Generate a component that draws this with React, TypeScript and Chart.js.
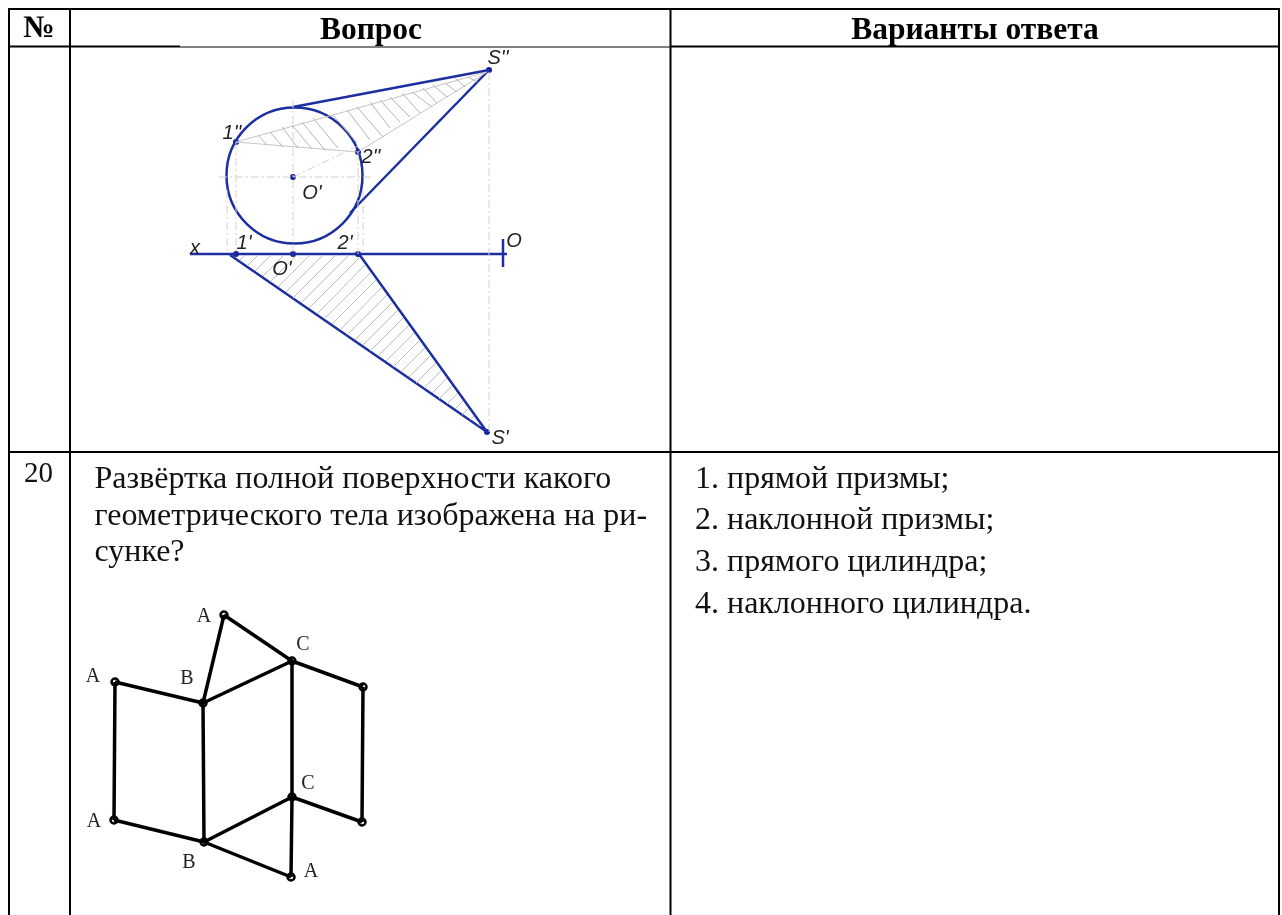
import React, { useEffect, useRef } from "react";
import { Chart, registerables } from "chart.js";

Chart.register(...registerables);

type P = [number, number];
type Seg = [number, number, number, number];

const gridThick: Seg[] = [
  [8, 9, 1280, 9],
  [8, 46.5, 180, 46.5],
  [670, 46.5, 1280, 46.5],
  [8, 452, 1280, 452],
];
const gridThin: Seg[] = [[180, 47, 670, 47]];
const gridCols: Seg[] = [
  [9, 9, 9, 915],
  [70, 9, 70, 915],
  [670.5, 9, 670.5, 915],
  [1279, 9, 1279, 915],
];

const blueLines: Seg[] = [
  [293, 107, 489, 70],
  [350, 213, 489, 70],
  [190, 254, 507, 254],
  [503, 239, 503, 267],
  [230, 255, 487, 432],
  [359, 254, 487, 432],
];
const bluePoints: P[] = [
  [489, 70],
  [236, 142],
  [358, 152],
  [293, 177],
  [236, 254],
  [293, 254],
  [358, 254],
  [487, 432],
];
const circleCentre: P[] = [[294.5, 175.5]];

const dashLines: Seg[] = [
  [489, 72, 489, 432],
  [219, 177, 372, 177],
  [293, 100, 293, 254],
  [227, 190, 227, 254],
  [236, 142, 236, 254],
  [358, 152, 358, 254],
  [363, 190, 363, 254],
  [293, 177, 360, 145],
];
const outlineGrey: Seg[] = [
  [236, 142, 487, 72],
  [236, 142, 358, 152],
  [358, 152, 487, 72],
];
const hatchUpper: Seg[] = [
  [258, 135, 267, 145],
  [270, 132, 283, 147],
  [282, 127, 298, 148],
  [292, 125, 312, 149],
  [302, 122, 325, 150],
  [313, 118, 338, 148],
  [333, 115, 357, 143],
  [347, 110, 370, 140],
  [357, 107, 383, 137],
  [370, 102, 390, 128],
  [380, 100, 400, 122],
  [390, 97, 410, 117],
  [402, 93, 420, 113],
  [412, 92, 432, 107],
  [423, 88, 437, 103],
  [433, 85, 447, 97],
  [445, 83, 457, 92],
  [455, 78, 465, 87],
  [468, 77, 477, 82],
];
const hatchLower: Seg[] = [
  [240, 260, 245, 255],
  [247, 266, 258, 255],
  [255, 271, 271, 255],
  [263, 276, 284, 255],
  [270, 282, 297, 255],
  [278, 287, 310, 255],
  [286, 292, 323, 255],
  [293, 298, 336, 255],
  [301, 303, 349, 255],
  [309, 308, 360, 257],
  [317, 314, 365, 265],
  [324, 319, 371, 272],
  [332, 324, 376, 280],
  [340, 330, 381, 288],
  [347, 335, 387, 295],
  [355, 340, 392, 303],
  [363, 345, 398, 310],
  [370, 351, 403, 318],
  [378, 356, 409, 325],
  [386, 361, 414, 333],
  [393, 367, 420, 340],
  [401, 372, 425, 348],
  [409, 377, 430, 356],
  [416, 383, 436, 363],
  [424, 388, 441, 371],
  [432, 393, 447, 378],
  [439, 399, 452, 386],
  [447, 404, 458, 393],
  [455, 409, 463, 401],
  [462, 415, 468, 409],
  [470, 420, 474, 416],
  [478, 425, 479, 424],
];

const netEdges: Seg[] = [
  [224, 615, 203, 703],
  [224, 615, 292, 661],
  [292, 661, 363, 687],
  [363, 687, 362, 822],
  [362, 822, 292, 797],
  [292, 797, 204, 842],
  [204, 842, 291, 877],
  [291, 877, 292, 797],
  [292, 661, 292, 797],
  [203, 703, 292, 661],
  [115, 682, 203, 703],
  [115, 682, 114, 820],
  [114, 820, 204, 842],
  [203, 703, 204, 842],
];
const netVertices: P[] = [
  [224, 615],
  [292, 661],
  [363, 687],
  [203, 703],
  [115, 682],
  [114, 820],
  [204, 842],
  [292, 797],
  [362, 822],
  [291, 877],
];

type Label = [string, number, number];
const headerLabels: Label[] = [
  ["№", 39, 37],
  ["Вопрос", 371, 39],
  ["Варианты ответа", 975, 39],
];
const numberLabels: Label[] = [["20", 24, 482]];
const bodyLabels: Label[] = [
  ["Развёртка полной поверхности какого", 94.5, 488],
  ["геометрического тела изображена на ри-", 94.5, 525],
  ["сунке?", 94.5, 561],
  ["1. прямой призмы;", 695, 487.5],
  ["2. наклонной призмы;", 695, 529],
  ["3. прямого цилиндра;", 695, 571],
  ["4. наклонного цилиндра.", 695, 613],
];
const figureLabels: Label[] = [
  ["S''", 498, 58],
  ["1''", 232, 133],
  ["2''", 371, 157],
  ["O'", 312, 193],
  ["x", 195, 248],
  ["1'", 244, 243],
  ["2'", 345, 243],
  ["O'", 282, 269],
  ["O", 514, 241],
  ["S'", 500, 438],
];
const netLabels: Label[] = [
  ["A", 204, 617],
  ["C", 303, 645],
  ["A", 93, 677],
  ["B", 187, 679],
  ["A", 94, 822],
  ["C", 308, 784],
  ["B", 189, 863],
  ["A", 311, 872],
];

const toPath = (segs: Seg[]) =>
  segs.flatMap(([a, b, c, d]) => [{ x: a, y: b }, { x: c, y: d }, { x: c, y: null as any }]);
const toPoints = (pts: P[]) => pts.map(([x, y]) => ({ x, y }));

const lineSet = (segs: Seg[], color: string, width: number, dash: number[] = []) => ({
  type: "scatter" as const,
  showLine: true,
  spanGaps: false,
  data: toPath(segs),
  borderColor: color,
  borderWidth: width,
  borderDash: dash,
  pointRadius: 0,
  tension: 0,
});

const textPlugin = {
  id: "labels",
  afterDatasetsDraw(chart: any) {
    const { ctx, scales } = chart;
    const draw = (
      items: Label[],
      font: string,
      color: string,
      align: CanvasTextAlign,
      baseline: CanvasTextBaseline
    ) => {
      ctx.save();
      ctx.font = font;
      ctx.fillStyle = color;
      ctx.textAlign = align;
      ctx.textBaseline = baseline;
      items.forEach(([t, x, y]) => ctx.fillText(t, scales.x.getPixelForValue(x), scales.y.getPixelForValue(y)));
      ctx.restore();
    };
    draw(headerLabels, 'bold 31.5px "Liberation Serif"', "#000", "center", "alphabetic");
    draw(numberLabels, '29px "Liberation Serif"', "#111", "left", "alphabetic");
    draw(bodyLabels, '32px "Liberation Serif"', "#111", "left", "alphabetic");
    draw(figureLabels, 'italic 20px "Liberation Sans"', "#222", "center", "middle");
    draw(netLabels, '20px "Liberation Serif"', "#222", "center", "middle");
  },
};

export default function App() {
  const ref = useRef<HTMLCanvasElement>(null);
  useEffect(() => {
    document.body.style.margin = "0";
    document.body.style.background = "#fff";
    const chart = new Chart(ref.current!, {
      type: "scatter",
      data: {
        datasets: [
          lineSet(hatchUpper, "#b4b4b4", 1),
          lineSet(hatchLower, "#bcbcbc", 1),
          lineSet(outlineGrey, "#c4c4c4", 1),
          lineSet(dashLines, "#d2d2d2", 1, [8, 3, 2, 3]),
          lineSet(blueLines, "#1c2fa0", 2.5),
          {
            type: "scatter",
            data: toPoints(circleCentre),
            pointRadius: 68,
            pointHoverRadius: 68,
            pointBackgroundColor: "transparent",
            pointBorderColor: "#1c2fa0",
            pointBorderWidth: 2.5,
          },
          {
            type: "scatter",
            data: toPoints(bluePoints),
            pointRadius: 3,
            pointBackgroundColor: "#14209a",
            pointBorderWidth: 0,
          },
          lineSet(netEdges, "#000", 3.5),
          {
            type: "scatter",
            data: toPoints(netVertices),
            pointRadius: 3.5,
            pointBackgroundColor: "#fff",
            pointBorderColor: "#000",
            pointBorderWidth: 2.5,
          },
          lineSet(gridCols, "#000", 2),
          lineSet(gridThick, "#000", 2),
          lineSet(gridThin, "#000", 1),
        ] as any,
      },
      options: {
        animation: false,
        responsive: false,
        layout: { padding: 0, autoPadding: false },
        clip: false as any,
        plugins: { legend: { display: false }, tooltip: { enabled: false } },
        scales: {
          x: { type: "linear", min: 0, max: 1282, display: false },
          y: { type: "linear", min: 0, max: 915, reverse: true, display: false },
        },
      },
      plugins: [textPlugin],
    });
    return () => chart.destroy();
  }, []);
  return (
    <canvas
      ref={ref}
      width={1282}
      height={915}
      style={{ position: "fixed", left: 0, top: 0, width: 1282, height: 915, display: "block" }}
    />
  );
}
